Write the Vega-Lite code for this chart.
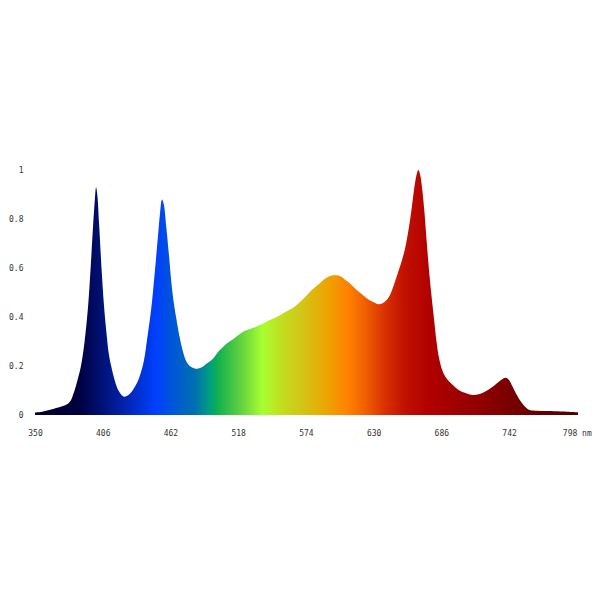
{
  "$schema": "https://vega.github.io/schema/vega-lite/v6.json",
  "autosize": "none",
  "width": 543,
  "height": 245,
  "padding": {"left": 35, "top": 170, "right": 22, "bottom": 185},
  "background": "white",
  "config": {"view": {"stroke": null}},
  "data": {"values": [
    {"nm": 350, "v": 0.01}, {"nm": 355, "v": 0.012}, {"nm": 360, "v": 0.018}, {"nm": 365, "v": 0.025},
    {"nm": 370, "v": 0.032}, {"nm": 375, "v": 0.04}, {"nm": 379, "v": 0.055}, {"nm": 382, "v": 0.09},
    {"nm": 385, "v": 0.14}, {"nm": 388, "v": 0.2}, {"nm": 391, "v": 0.3}, {"nm": 394, "v": 0.45},
    {"nm": 396, "v": 0.6}, {"nm": 398, "v": 0.77}, {"nm": 399.5, "v": 0.88}, {"nm": 400.5, "v": 0.93},
    {"nm": 401.5, "v": 0.9}, {"nm": 403, "v": 0.78}, {"nm": 405, "v": 0.6}, {"nm": 407, "v": 0.45},
    {"nm": 409, "v": 0.34}, {"nm": 411, "v": 0.25}, {"nm": 413, "v": 0.2}, {"nm": 416, "v": 0.14},
    {"nm": 419, "v": 0.1}, {"nm": 422, "v": 0.08}, {"nm": 424, "v": 0.075}, {"nm": 428, "v": 0.085},
    {"nm": 432, "v": 0.11}, {"nm": 436, "v": 0.15}, {"nm": 440, "v": 0.22}, {"nm": 443, "v": 0.32},
    {"nm": 446, "v": 0.43}, {"nm": 449, "v": 0.58}, {"nm": 451.5, "v": 0.72}, {"nm": 453.5, "v": 0.83},
    {"nm": 455, "v": 0.88}, {"nm": 456.5, "v": 0.86}, {"nm": 458.5, "v": 0.77}, {"nm": 461, "v": 0.64},
    {"nm": 463, "v": 0.53}, {"nm": 465, "v": 0.45}, {"nm": 467, "v": 0.39}, {"nm": 469.5, "v": 0.32},
    {"nm": 472, "v": 0.265}, {"nm": 475, "v": 0.22}, {"nm": 478, "v": 0.2}, {"nm": 482, "v": 0.19},
    {"nm": 485, "v": 0.19}, {"nm": 488, "v": 0.195}, {"nm": 492, "v": 0.21}, {"nm": 495, "v": 0.22},
    {"nm": 498, "v": 0.235}, {"nm": 501, "v": 0.255}, {"nm": 504, "v": 0.27}, {"nm": 508, "v": 0.29},
    {"nm": 514, "v": 0.31}, {"nm": 522, "v": 0.34}, {"nm": 530, "v": 0.355}, {"nm": 536, "v": 0.367},
    {"nm": 543, "v": 0.385}, {"nm": 550, "v": 0.4}, {"nm": 557, "v": 0.42}, {"nm": 564, "v": 0.44},
    {"nm": 570, "v": 0.465}, {"nm": 575, "v": 0.49}, {"nm": 580, "v": 0.515}, {"nm": 586, "v": 0.54},
    {"nm": 591, "v": 0.56}, {"nm": 596, "v": 0.57}, {"nm": 600, "v": 0.57}, {"nm": 603, "v": 0.565},
    {"nm": 607, "v": 0.55}, {"nm": 611, "v": 0.535}, {"nm": 616, "v": 0.51}, {"nm": 621, "v": 0.49},
    {"nm": 626, "v": 0.47}, {"nm": 630, "v": 0.46}, {"nm": 634, "v": 0.452}, {"nm": 637, "v": 0.455},
    {"nm": 641, "v": 0.47}, {"nm": 644, "v": 0.495}, {"nm": 647, "v": 0.535}, {"nm": 650, "v": 0.58},
    {"nm": 653, "v": 0.625}, {"nm": 656, "v": 0.68}, {"nm": 659, "v": 0.76}, {"nm": 661.5, "v": 0.845},
    {"nm": 664, "v": 0.94}, {"nm": 666, "v": 0.99}, {"nm": 667, "v": 1.0}, {"nm": 668.5, "v": 0.98},
    {"nm": 670, "v": 0.93}, {"nm": 672, "v": 0.83}, {"nm": 674, "v": 0.7}, {"nm": 676, "v": 0.58},
    {"nm": 678, "v": 0.48}, {"nm": 680, "v": 0.39}, {"nm": 682, "v": 0.3}, {"nm": 684, "v": 0.235},
    {"nm": 687, "v": 0.18}, {"nm": 690.5, "v": 0.148}, {"nm": 695, "v": 0.125}, {"nm": 701, "v": 0.1},
    {"nm": 707, "v": 0.088}, {"nm": 712, "v": 0.082}, {"nm": 717, "v": 0.085}, {"nm": 722, "v": 0.095},
    {"nm": 727, "v": 0.11}, {"nm": 732, "v": 0.13}, {"nm": 736, "v": 0.145}, {"nm": 739, "v": 0.152},
    {"nm": 741, "v": 0.148}, {"nm": 744, "v": 0.125}, {"nm": 747, "v": 0.095}, {"nm": 751, "v": 0.06},
    {"nm": 755, "v": 0.035}, {"nm": 759, "v": 0.02}, {"nm": 765, "v": 0.017}, {"nm": 773, "v": 0.016},
    {"nm": 780, "v": 0.015}, {"nm": 790, "v": 0.013}, {"nm": 799, "v": 0.011}
  ]},
  "mark": {
    "type": "area",
    "interpolate": "catmull-rom",
    "line": false,
    "color": {
      "gradient": "linear",
      "x1": 0, "x2": 1, "y1": 0, "y2": 0,
      "stops": [
        {"offset": 0, "color": "#000028"},
        {"offset": 0.082, "color": "#000040"},
        {"offset": 0.144, "color": "#001a90"},
        {"offset": 0.223, "color": "#0040ff"},
        {"offset": 0.245, "color": "#0050e0"},
        {"offset": 0.294, "color": "#0070b0"},
        {"offset": 0.323, "color": "#00a080"},
        {"offset": 0.336, "color": "#10b050"},
        {"offset": 0.378, "color": "#60d040"},
        {"offset": 0.419, "color": "#a8ff30"},
        {"offset": 0.451, "color": "#c0e020"},
        {"offset": 0.488, "color": "#d0c818"},
        {"offset": 0.543, "color": "#f0a000"},
        {"offset": 0.577, "color": "#ff8000"},
        {"offset": 0.608, "color": "#f06000"},
        {"offset": 0.645, "color": "#d83000"},
        {"offset": 0.682, "color": "#c01000"},
        {"offset": 0.728, "color": "#b00000"},
        {"offset": 0.82, "color": "#900000"},
        {"offset": 0.893, "color": "#700000"},
        {"offset": 1, "color": "#500000"}
      ]
    }
  },
  "encoding": {
    "x": {
      "field": "nm", "type": "quantitative",
      "scale": {"domain": [350, 799], "nice": false, "zero": false},
      "axis": {
        "title": null, "domain": false, "ticks": false, "grid": false,
        "values": [350, 406, 462, 518, 574, 630, 686, 742, 798],
        "labelExpr": "datum.value == 798 ? '798 nm' : datum.label",
        "labelFont": "DejaVu Sans Mono", "labelFontSize": 8, "labelColor": "#333333",
        "labelPadding": 14, "labelFlush": false, "labelOverlap": false
      }
    },
    "y": {
      "field": "v", "type": "quantitative",
      "scale": {"domain": [0, 1], "nice": false},
      "axis": {
        "title": null, "domain": false, "ticks": false, "grid": false,
        "values": [0, 0.2, 0.4, 0.6, 0.8, 1],
        "format": ".1~f",
        "labelFont": "DejaVu Sans Mono", "labelFontSize": 8, "labelColor": "#333333",
        "labelPadding": 12, "labelFlush": false, "labelOverlap": false
      }
    }
  }
}
